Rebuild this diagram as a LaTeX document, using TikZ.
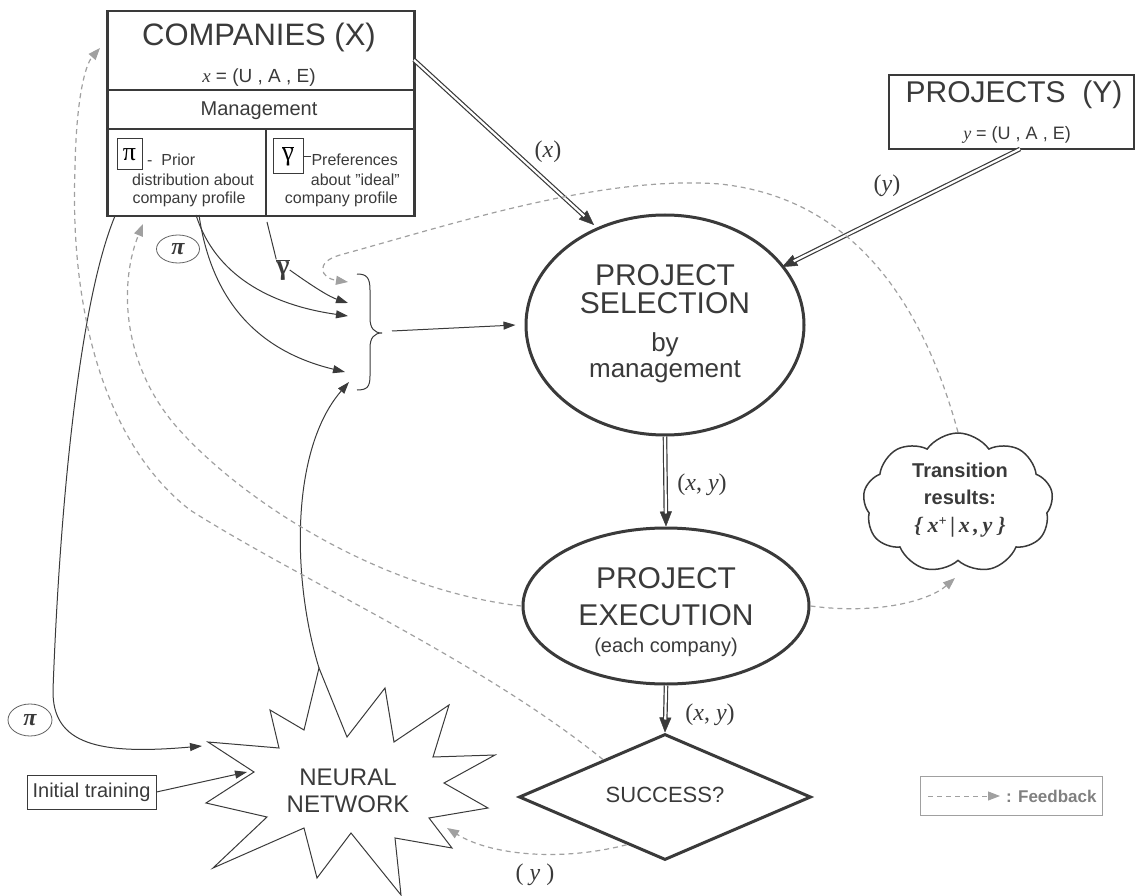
\documentclass[tikz,border=0pt]{standalone}
\usepackage{fontspec}
\setmainfont{Liberation Sans}
\newfontfamily\tms{Liberation Serif}
\usetikzlibrary{shapes.geometric,shapes.symbols,arrows.meta,calc}
\definecolor{dk}{HTML}{3A3A3A}
\definecolor{fbg}{HTML}{A0A0A0}
\newcommand\fsz[1]{\fontsize{#1}{#1}\selectfont}
\newcommand\dblar[2]{%
  \draw[white, line width=0.4pt, -{Triangle[length=15pt,width=12pt,color=dk]}] #1 -- #2;
  \draw[dk, line width=1.2pt, double=white, double distance=2.2pt, shorten >=13pt] #1 -- #2;}
\begin{document}
\begin{tikzpicture}[x=1pt,y=-1pt,
  txt/.style={inner sep=0, text=dk},
  arr/.style={draw=dk, line width=1pt, -{Triangle[length=12pt,width=8pt]}},
  fb/.style={draw=fbg, line width=1.2pt, dash pattern=on 5pt off 4pt, -{Triangle[length=12pt,width=9pt]}},
  big/.style={draw=dk, line width=3pt, ellipse, inner sep=0},
  lab/.style={inner sep=0, text=dk, font=\tms\fsz{24}}
]
\useasboundingbox (0,0) rectangle (1136,896);

% ---------- COMPANIES box ----------
\node[draw=dk, line width=2.5pt, minimum width=307pt, minimum height=205pt, inner sep=0, anchor=north west] (comp) at (106,10) {};
\draw[dk, line width=2.5pt] (106,90) -- (413,90);
\draw[dk, line width=2.5pt] (106,129) -- (413,129);
\draw[dk, line width=2.5pt] (266,129) -- (266,215);
\node[txt, font=\fsz{31}] (compt) at (259,37) {COMPANIES (X)};
\node[txt, font=\fsz{19}] (compx) at (259,78) {{\tms\itshape x} = (U , A , E)};
\node[txt, font=\fsz{20}] (mgmt) at (259,111) {Management};
\node[draw=dk, line width=1pt, minimum width=25pt, minimum height=31pt, inner sep=0] (pibox) at (129.5,154.5) {\tms\fsz{26}π};
\node[txt, font=\fsz{16}, anchor=west] (prior) at (147,160) {-\ \ Prior};
\node[txt, font=\fsz{16}] (distr) at (193,180) {distribution about};
\node[txt, font=\fsz{16}] (cprof1) at (189,199) {company profile};
\node[draw=dk, line width=1pt, minimum width=30pt, minimum height=35pt, inner sep=0] (gbox) at (288,156.5) {\tms\fsz{26}$\overline{\hbox{γ}}$};
\draw[dk, line width=1pt] (gbox.east) -- ++(7,0);
\node[txt, font=\fsz{16}, anchor=east] (pref) at (398,160) {Preferences};
\node[txt, font=\fsz{16}, anchor=east] (ideal) at (400,180) {about "ideal"};
\node[txt, font=\fsz{16}, anchor=east] (cprof2) at (398,199) {company profile};

% ---------- PROJECTS box ----------
\node[draw=dk, line width=2pt, minimum width=245pt, minimum height=74pt, inner sep=0] (proj) at (1011,112) {};
\node[txt, font=\fsz{30}] (projt) at (1014,95) {PROJECTS \ (Y)};
\node[txt, font=\fsz{18}] (projy) at (1017,135) {{\tms\itshape y} = (U , A , E)};

% ---------- PROJECT SELECTION ----------
\node[big, minimum width=278pt, minimum height=220pt] (sel) at (665,325) {};
\node[txt, font=\fsz{30}] (sel1) at (665,275) {PROJECT};
\node[txt, font=\fsz{30}] (sel2) at (665,303) {SELECTION};
\node[txt, font=\fsz{26}] (sel3) at (665,345) {by};
\node[txt, font=\fsz{26}] (sel4) at (665,372) {management};

% ---------- PROJECT EXECUTION ----------
\node[big, minimum width=286pt, minimum height=156pt] (exe) at (666,606) {};
\node[txt, font=\fsz{30}] (exe1) at (666,578) {PROJECT};
\node[txt, font=\fsz{30}] (exe2) at (666,615) {EXECUTION};
\node[txt, font=\fsz{20}] (exe3) at (666,647) {(each company)};

% ---------- SUCCESS diamond ----------
\node[draw=dk, line width=3pt, diamond, minimum width=292pt, minimum height=126pt, inner sep=0] (succ) at (665,797) {};
\node[txt, font=\fsz{22}] (succt) at (665,795) {SUCCESS?};

% ---------- Cloud ----------
\node[draw=dk, line width=1.5pt, cloud, cloud puffs=9, cloud puff arc=110, minimum width=190pt, minimum height=140pt, inner sep=0] (cloud) at (958,503) {};
\node[txt, font=\fsz{20}\bfseries] (cl1) at (960,470) {Transition};
\node[txt, font=\fsz{20}\bfseries] (cl2) at (960,497) {results:};
\node[txt, font=\tms\bfseries\itshape\fsz{22}] (cl3) at (960,527) {\{ x\raisebox{7pt}{\fsz{14}+}\,|\,x\,,\,y \}};

% ---------- Neural network star ----------
\draw[dk, line width=1pt] (319,668) -- (347,737) -- (385,688) -- (394,742) -- (449,705) -- (433,757) -- (495,755) -- (444,783) -- (488,808) -- (429,818) -- (452,848) -- (395,838) -- (401,895) -- (351,833) -- (317,878) -- (304,828) -- (213,868) -- (267,817) -- (206,803) -- (254,772) -- (208,742) -- (279,748) -- (270,710) -- (304,730) -- cycle;
\node[txt, font=\fsz{24}, align=center] (nn) at (348,791) {NEURAL\\[3pt]NETWORK};
\coordinate (nntop) at (319,668);
\coordinate (nnin1) at (202,746);
\coordinate (nnin2) at (247,772);
\coordinate (nnin3) at (447,828);

% ---------- Initial training ----------
\node[draw=dk, line width=1pt, minimum width=129pt, minimum height=34pt, inner sep=0, font=\fsz{20}, text=dk] (init) at (91.5,792) {Initial training};
\draw[arr] (init.east) -- (nnin2);

% ---------- brace ----------
\draw[dk, line width=1pt] (357,274) .. controls (367,274) and (370,278) .. (370,290) -- (370,318) .. controls (370,328) and (374,333) .. (382,333) .. controls (374,333) and (370,338) .. (370,348) -- (370,376) .. controls (370,387) and (367,390) .. (357,390);
\coordinate (brtip) at (392,331);
\coordinate (brin0) at (348,282);
\coordinate (brin1) at (348,303);
\coordinate (brin2) at (348,316);
\coordinate (brin3) at (345,372);
\coordinate (brin4) at (349,382);
\draw[arr] (brtip) -- ([xshift=-9pt]sel.west);

% ---------- labels pi, gamma ----------
\node[draw=dk!80, line width=0.8pt, ellipse, minimum width=43pt, minimum height=28pt, inner sep=0, font=\tms\bfseries\itshape\fsz{24}, text=dk] (pi1) at (178,249) {π};
\node[draw=dk!80, line width=0.8pt, ellipse, minimum width=44pt, minimum height=32pt, inner sep=0, font=\tms\bfseries\itshape\fsz{24}, text=dk] (pi2) at (30,720) {π};
\node[txt, font=\tms\bfseries\fsz{28}] (gl) at (283,270) {$\overline{\hbox{γ}}$};

% ---------- solid connectors from companies ----------
\coordinate (cpa) at (196,215);
\coordinate (cpb) at (199,215);
\coordinate (cg) at (267,222);
\coordinate (cl) at (115,216);
\draw[arr] (cpa) .. controls (215,275) and (270,305) .. (brin2);
\draw[arr] (cpb) .. controls (212,305) and (262,352) .. (brin3);
\draw[dk, line width=1pt] (cg) -- (gl.north west);
\draw[arr] (gl.east) .. controls (315,288) and (330,297) .. (brin1);
\draw[arr] (cl) .. controls (80,300) and (60,500) .. (53,690) .. controls (52,745) and (100,755) .. (nnin1);
\draw[arr] (nntop) .. controls (292,580) and (290,450) .. (brin4);

% ---------- double arrows ----------
\coordinate (d1s) at (414,60);
\coordinate (d1e) at (594,225);
\coordinate (d2s) at (1020,149);
\coordinate (d2e) at (782,267);
\dblar{(d1s)}{(d1e)}
\dblar{(d2s)}{(d2e)}
\dblar{(sel.south)}{(exe.north)}
\dblar{(exe.south)}{(succ.north)}
\node[lab] (lx) at (548,152) {(\textit{x})};
\node[lab] (ly) at (887,186) {(\textit{y})};
\node[lab] (lxy1) at (702,485) {(\textit{x}, \textit{y})};
\node[lab] (lxy2) at (710,715) {(\textit{x}, \textit{y})};
\node[lab] (ly2) at (535,875) {( \textit{y} )};

% ---------- feedback (dashed) ----------
\coordinate (fbA) at (143,224);
\coordinate (fbB) at (100,48);
\draw[fb] (cloud.north) .. controls (930,330) and (870,200) .. (720,184) .. controls (600,175) and (450,225) .. (340,255) .. controls (315,262) and (320,278) .. (brin0);
\draw[fb] (exe.west) .. controls (380,590) and (240,500) .. (175,425) .. controls (120,360) and (120,280) .. (fbA);
\draw[fb] ($(succ.west)!0.58!(succ.north)$) .. controls (480,660) and (300,580) .. (190,510) .. controls (100,440) and (70,300) .. (75,170) .. controls (76,100) and (85,65) .. (fbB);
\draw[fb] ($(succ.west)!0.74!(succ.south)$) .. controls (560,862) and (490,855) .. (nnin3);
\coordinate (clin) at (955,578);
\draw[fb] (exe.east) .. controls (880,615) and (930,600) .. (clin);

% ---------- legend ----------
\node[draw=fbg, line width=1pt, minimum width=182pt, minimum height=39pt, inner sep=0, anchor=north west] (legend) at (920,776) {};
\coordinate (lg1) at (928,796);
\coordinate (lg2) at (1000,796);
\draw[fb, line width=1pt] (lg1) -- (lg2);
\node[inner sep=0, anchor=west, text=gray, font=\bfseries\fsz{17}] (lgt) at (1006,796) {: Feedback};
\end{tikzpicture}
\end{document}
